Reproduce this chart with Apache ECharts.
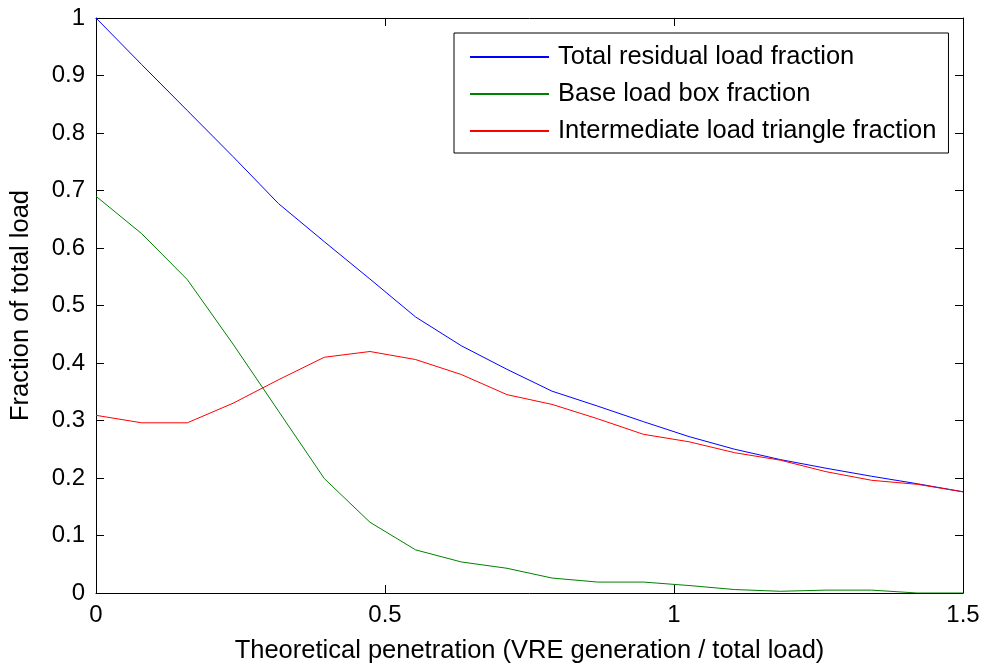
<!DOCTYPE html>
<html>
<head>
<meta charset="utf-8">
<script src="https://cdn.jsdelivr.net/npm/echarts@6/dist/echarts.min.js"></script>
<style>
  html, body { margin: 0; padding: 0; background: #fff; }
  #chart { width: 985px; height: 669px; }
</style>
</head>
<body>
<div id="chart"></div>
<script>
// Theoretical penetration (VRE generation / total load)
const penetration = [0, 0.079, 0.158, 0.237, 0.316, 0.395, 0.474, 0.553, 0.632, 0.711,
                     0.789, 0.868, 0.947, 1.026, 1.105, 1.184, 1.263, 1.342, 1.421, 1.5];

const totalResidual = [1.0, 0.919, 0.839, 0.759, 0.677, 0.611, 0.546, 0.480, 0.430, 0.389,
                       0.351, 0.325, 0.298, 0.272, 0.250, 0.232, 0.217, 0.203, 0.190, 0.176];

const baseLoadBox = [0.690, 0.625, 0.545, 0.433, 0.316, 0.199, 0.123, 0.075, 0.054, 0.043,
                     0.026, 0.019, 0.019, 0.013, 0.006, 0.003, 0.005, 0.005, 0.000, 0.000];

const intermediateTriangle = [0.309, 0.296, 0.296, 0.330, 0.371, 0.410, 0.420, 0.406, 0.380, 0.345,
                              0.328, 0.303, 0.276, 0.263, 0.244, 0.231, 0.211, 0.196, 0.189, 0.176];

const seriesNames = ['Total residual load fraction', 'Base load box fraction', 'Intermediate load triangle fraction'];
const seriesColors = ['#0000ff', '#008000', '#ff0000'];

const FONT = 'Liberation Sans, Arial, Helvetica, sans-serif';
const TEXT_SIZE = 25.5;
const TICK_SIZE = 24;

function pairs(ys) {
  return penetration.map((x, i) => [x, ys[i]]);
}

const chart = echarts.init(document.getElementById('chart'), null, { renderer: 'canvas' });

const tickStyle = { show: true, inside: true, length: 8, lineStyle: { color: '#000', width: 1 } };
const lineStyle = { show: true, onZero: false, lineStyle: { color: '#000', width: 1 } };

chart.setOption({
  animation: false,
  backgroundColor: '#fff',
  grid: { left: 96, right: 22, top: 18, bottom: 74, containLabel: false },
  legend: {
    orient: 'vertical',
    left: 454,
    top: 33,
    padding: [11, 12, 9, 16],
    itemGap: 11,
    itemWidth: 79,
    itemHeight: 2,
    icon: 'rect',
    backgroundColor: '#fff',
    borderColor: '#000',
    borderWidth: 1,
    textStyle: { color: '#000', fontSize: TEXT_SIZE, fontFamily: FONT, padding: [0, 0, 0, 4] },
    data: seriesNames
  },
  xAxis: [
    {
      type: 'value', min: 0, max: 1.5, interval: 0.5,
      name: 'Theoretical penetration (VRE generation / total load)',
      nameLocation: 'middle', nameGap: 45,
      nameTextStyle: { color: '#000', fontSize: TEXT_SIZE, fontFamily: FONT },
      axisLine: lineStyle, axisTick: tickStyle,
      axisLabel: { color: '#000', fontSize: TICK_SIZE, fontFamily: FONT, margin: 10 },
      splitLine: { show: false }
    },
    {
      type: 'value', position: 'top', min: 0, max: 1.5, interval: 0.5,
      axisLine: lineStyle, axisTick: tickStyle,
      axisLabel: { show: false }, splitLine: { show: false }
    }
  ],
  yAxis: [
    {
      type: 'value', min: 0, max: 1, interval: 0.1,
      name: 'Fraction of total load',
      nameLocation: 'middle', nameGap: 62,
      nameTextStyle: { color: '#000', fontSize: TEXT_SIZE, fontFamily: FONT },
      axisLine: lineStyle, axisTick: tickStyle,
      axisLabel: {
        color: '#000', fontSize: TICK_SIZE, fontFamily: FONT, margin: 11,
        formatter: v => (Math.round(v * 10) / 10).toString()
      },
      splitLine: { show: false }
    },
    {
      type: 'value', position: 'right', min: 0, max: 1, interval: 0.1,
      axisLine: lineStyle, axisTick: tickStyle,
      axisLabel: { show: false }, splitLine: { show: false }
    }
  ],
  series: [
    { name: seriesNames[0], type: 'line', data: pairs(totalResidual) },
    { name: seriesNames[1], type: 'line', data: pairs(baseLoadBox) },
    { name: seriesNames[2], type: 'line', data: pairs(intermediateTriangle) }
  ].map((s, i) => Object.assign(s, {
    xAxisIndex: 0, yAxisIndex: 0,
    symbol: 'none', showSymbol: false,
    color: seriesColors[i],
    itemStyle: { color: seriesColors[i] },
    lineStyle: { color: seriesColors[i], width: 1 }
  }))
});
</script>
</body>
</html>
